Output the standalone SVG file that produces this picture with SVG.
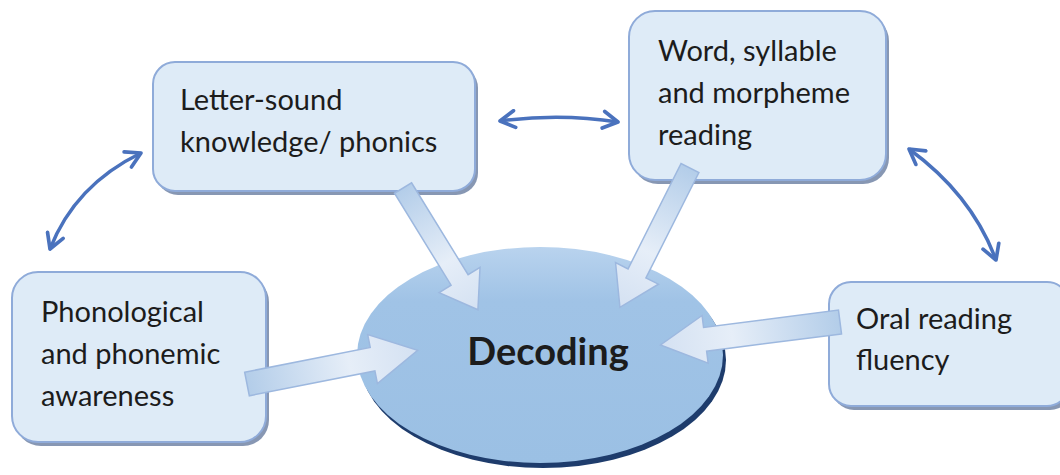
<svg xmlns="http://www.w3.org/2000/svg" width="1060" height="475" viewBox="0 0 1060 475">
<defs>
<style>
.box{fill:#deebf7;stroke:#8fabd9;stroke-width:2}
.shadow{fill:#8797b3}
.lbl{font-family:Lato,"Open Sans","Liberation Sans",sans-serif;font-size:29px;fill:#1c1c1c}
.con{fill:none;stroke:#4a72bd;stroke-width:3.5}
.blk{fill:url(#blkg);stroke:#9db8df;stroke-width:1.5}
</style>
<marker id="ah" viewBox="0 0 20 20" refX="17" refY="10" markerWidth="6" markerHeight="6" orient="auto-start-reverse" markerUnits="strokeWidth">
<path d="M3,2 L17,10 L3,18" fill="none" stroke="#4a72bd" stroke-width="3.5" stroke-linecap="round" stroke-linejoin="round"/>
</marker>
<linearGradient id="blkg" x1="0" y1="0" x2="1" y2="0">
<stop offset="0" stop-color="#b3cde9"/>
<stop offset="0.6" stop-color="#e6eef8"/>
<stop offset="1" stop-color="#d4e1f2"/>
</linearGradient>
<linearGradient id="ellg" x1="0" y1="0" x2="0" y2="1">
<stop offset="0" stop-color="#b9d3ee"/>
<stop offset="0.25" stop-color="#a0c3e6"/>
<stop offset="1" stop-color="#9bc0e4"/>
</linearGradient>
</defs>

<g id="decoding">
<ellipse cx="543" cy="360" rx="183" ry="108" fill="#1e3c6c"/>
<ellipse cx="540" cy="355" rx="183" ry="108" fill="url(#ellg)"/>
<text x="548" y="365" text-anchor="middle" font-family="Lato,'Open Sans','Liberation Sans',sans-serif" font-size="38" font-weight="bold" fill="#1c1c1c">Decoding</text>
</g>

<g id="letter-sound">
<rect class="shadow" x="156" y="66" width="322" height="129" rx="22"/>
<rect class="box" x="153" y="62" width="322" height="129" rx="22"/>
<text class="lbl" x="180" y="110">Letter-sound</text>
<text class="lbl" x="180" y="152">knowledge/ phonics</text>
</g>

<g id="word-syllable">
<rect class="shadow" x="632" y="15" width="257" height="169" rx="26"/>
<rect class="box" x="629" y="11" width="257" height="169" rx="26"/>
<text class="lbl" x="658" y="61">Word, syllable</text>
<text class="lbl" x="658" y="103">and morpheme</text>
<text class="lbl" x="658" y="145">reading</text>
</g>

<g id="phonological">
<rect class="shadow" x="15" y="276" width="254" height="170" rx="26"/>
<rect class="box" x="12" y="272" width="254" height="170" rx="26"/>
<text class="lbl" x="41" y="322">Phonological</text>
<text class="lbl" x="41" y="364">and phonemic</text>
<text class="lbl" x="41" y="406">awareness</text>
</g>

<g id="oral-reading">
<rect class="shadow" x="832" y="286" width="240" height="124" rx="22"/>
<rect class="box" x="829" y="282" width="240" height="124" rx="22"/>
<text class="lbl" x="856" y="329">Oral reading</text>
<text class="lbl" x="856" y="370">fluency</text>
</g>

<g id="connectors">
<polygon class="blk" transform="translate(403,188) rotate(58.4)" points="0,-10 108,-10 108,-24 143,0 108,24 108,10 0,10"/>
<polygon class="blk" transform="translate(690,168) rotate(116.7)" points="0,-10 118,-10 118,-24 156,0 118,24 118,10 0,10"/>
<polygon class="blk" transform="translate(247,384) rotate(-11.2)" points="0,-12 128,-12 128,-25 174,0 128,25 128,12 0,12"/>
<polygon class="blk" transform="translate(840,322) rotate(172.7)" points="0,-12 136,-12 136,-24 181,0 136,24 136,12 0,12"/>
<path class="con" d="M500,121 Q560,113 618,122" marker-start="url(#ah)" marker-end="url(#ah)"/>
<path class="con" d="M141,153 Q75,185 50,249" marker-start="url(#ah)" marker-end="url(#ah)"/>
<path class="con" d="M909,149 Q972,195 996,260" marker-start="url(#ah)" marker-end="url(#ah)"/>
</g>
</svg>
